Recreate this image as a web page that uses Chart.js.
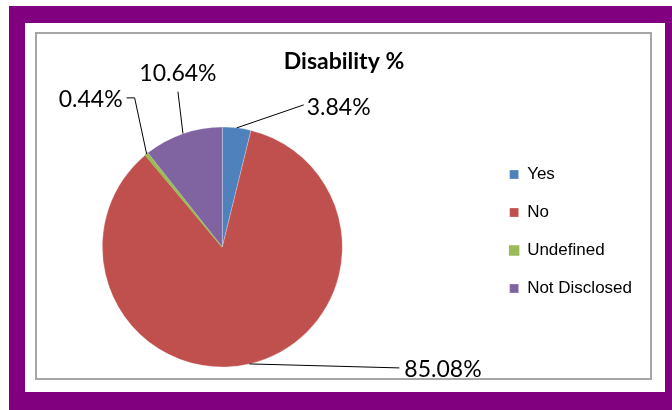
<!DOCTYPE html>
<html>
<head>
<meta charset="utf-8">
<title>Disability %</title>
<script src="https://cdn.jsdelivr.net/npm/chart.js@4.4.1/dist/chart.umd.min.js"></script>
<style>
    html, body {
        margin: 0;
        padding: 0;
        width: 672px;
        height: 410px;
        overflow: hidden;
        background: #fff;
    }
    .frame {
        position: absolute;
        left: 9px;
        top: 6px;
        width: 640px;
        height: 369px;
        border-style: solid;
        border-color: #800080;
        border-width: 17px 20px 20px 16px;
        background: #fff;
    }
    .plot-box {
        position: absolute;
        left: 35px;
        top: 32px;
        width: 613px;
        height: 344px;
        border: 2px solid #a6a6a6;
    }
    #disabilityChart {
        position: absolute;
        left: -44px;
        top: 33px;
    }
</style>
</head>
<body>
<div class="frame"></div>
<div class="plot-box"></div>
<canvas id="disabilityChart" width="695" height="346"></canvas>

<script>
// Chart data
const categories = ['Yes', 'No', 'Undefined', 'Not Disclosed'];
const percentages = [3.84, 85.08, 0.44, 10.64];
const sliceColors = ['#4F81BD', '#C0504D', '#9BBB59', '#8064A2'];

// Leader line offsets (px) from each slice edge, and where its text sits
const callouts = [
    { dx: 67, dy: -23, tail: 0, align: 'left', tx: 3, ty: 3 },
    { dx: 150, dy: 4, tail: 0, align: 'left', tx: 5, ty: 2 },
    { dx: -12, dy: -56, tail: -8, align: 'right', tx: -4, ty: 2 },
    { dx: -5, dy: -42, tail: 0, align: 'center', tx: 0, ty: -18 }
];

document.addEventListener('DOMContentLoaded', function() {
    initChart();
});

// Draws the percentage labels with leader lines, plus the title
const calloutPlugin = {
    id: 'callouts',
    afterDatasetsDraw(chart, args, opts) {
        const ctx = chart.ctx;
        const arcs = chart.getDatasetMeta(0).data;
        const values = chart.data.datasets[0].data;

        ctx.save();
        ctx.strokeStyle = '#000';
        ctx.lineWidth = 1;
        ctx.fillStyle = '#000';
        ctx.font = opts.font;
        ctx.textBaseline = 'middle';

        arcs.forEach((arc, i) => {
            const c = opts.items[i];
            const mid = (arc.startAngle + arc.endAngle) / 2;
            const x0 = arc.x + Math.cos(mid) * arc.outerRadius;
            const y0 = arc.y + Math.sin(mid) * arc.outerRadius;
            const x1 = x0 + c.dx;
            const y1 = y0 + c.dy;

            ctx.beginPath();
            ctx.moveTo(x0, y0);
            ctx.lineTo(x1, y1);
            if (c.tail) {
                ctx.lineTo(x1 + c.tail, y1);
            }
            ctx.stroke();

            ctx.textAlign = c.align;
            ctx.fillText(values[i].toFixed(2) + '%', x1 + c.tail + c.tx, y1 + c.ty);
        });

        // Title
        ctx.font = opts.titleFont;
        ctx.textAlign = 'center';
        ctx.fillText(opts.title, opts.titleX, opts.titleY);
        ctx.restore();
    }
};

function initChart() {
    const ctx = document.getElementById('disabilityChart').getContext('2d');
    const edge = 'rgba(255, 255, 255, 0.5)';
    new Chart(ctx, {
        type: 'pie',
        data: {
            labels: categories,
            datasets: [{
                data: percentages,
                backgroundColor: sliceColors,
                // the thin green slice keeps a border in its own colour so it stays visible
                borderColor: [edge, edge, sliceColors[2], edge],
                borderWidth: [0.5, 0.5, 1.5, 0.5],
                radius: 120
            }]
        },
        options: {
            responsive: false,
            animation: false,
            layout: {
                padding: { left: 0, right: 9, top: 112, bottom: 30 }
            },
            plugins: {
                legend: {
                    position: 'right',
                    align: 'start',
                    labels: {
                        color: '#000',
                        boxWidth: 9,
                        boxHeight: 9,
                        padding: 21,
                        font: { family: '"Liberation Sans", Arial, sans-serif', size: 17 }
                    }
                },
                title: { display: false },
                tooltip: { enabled: false },
                callouts: {
                    items: callouts,
                    font: '23px Lato, "Open Sans", sans-serif',
                    title: 'Disability %',
                    titleFont: 'bold 23px Lato, "Open Sans", sans-serif',
                    titleX: 388,
                    titleY: 29
                }
            }
        },
        plugins: [calloutPlugin]
    });
}
</script>
</body>
</html>
